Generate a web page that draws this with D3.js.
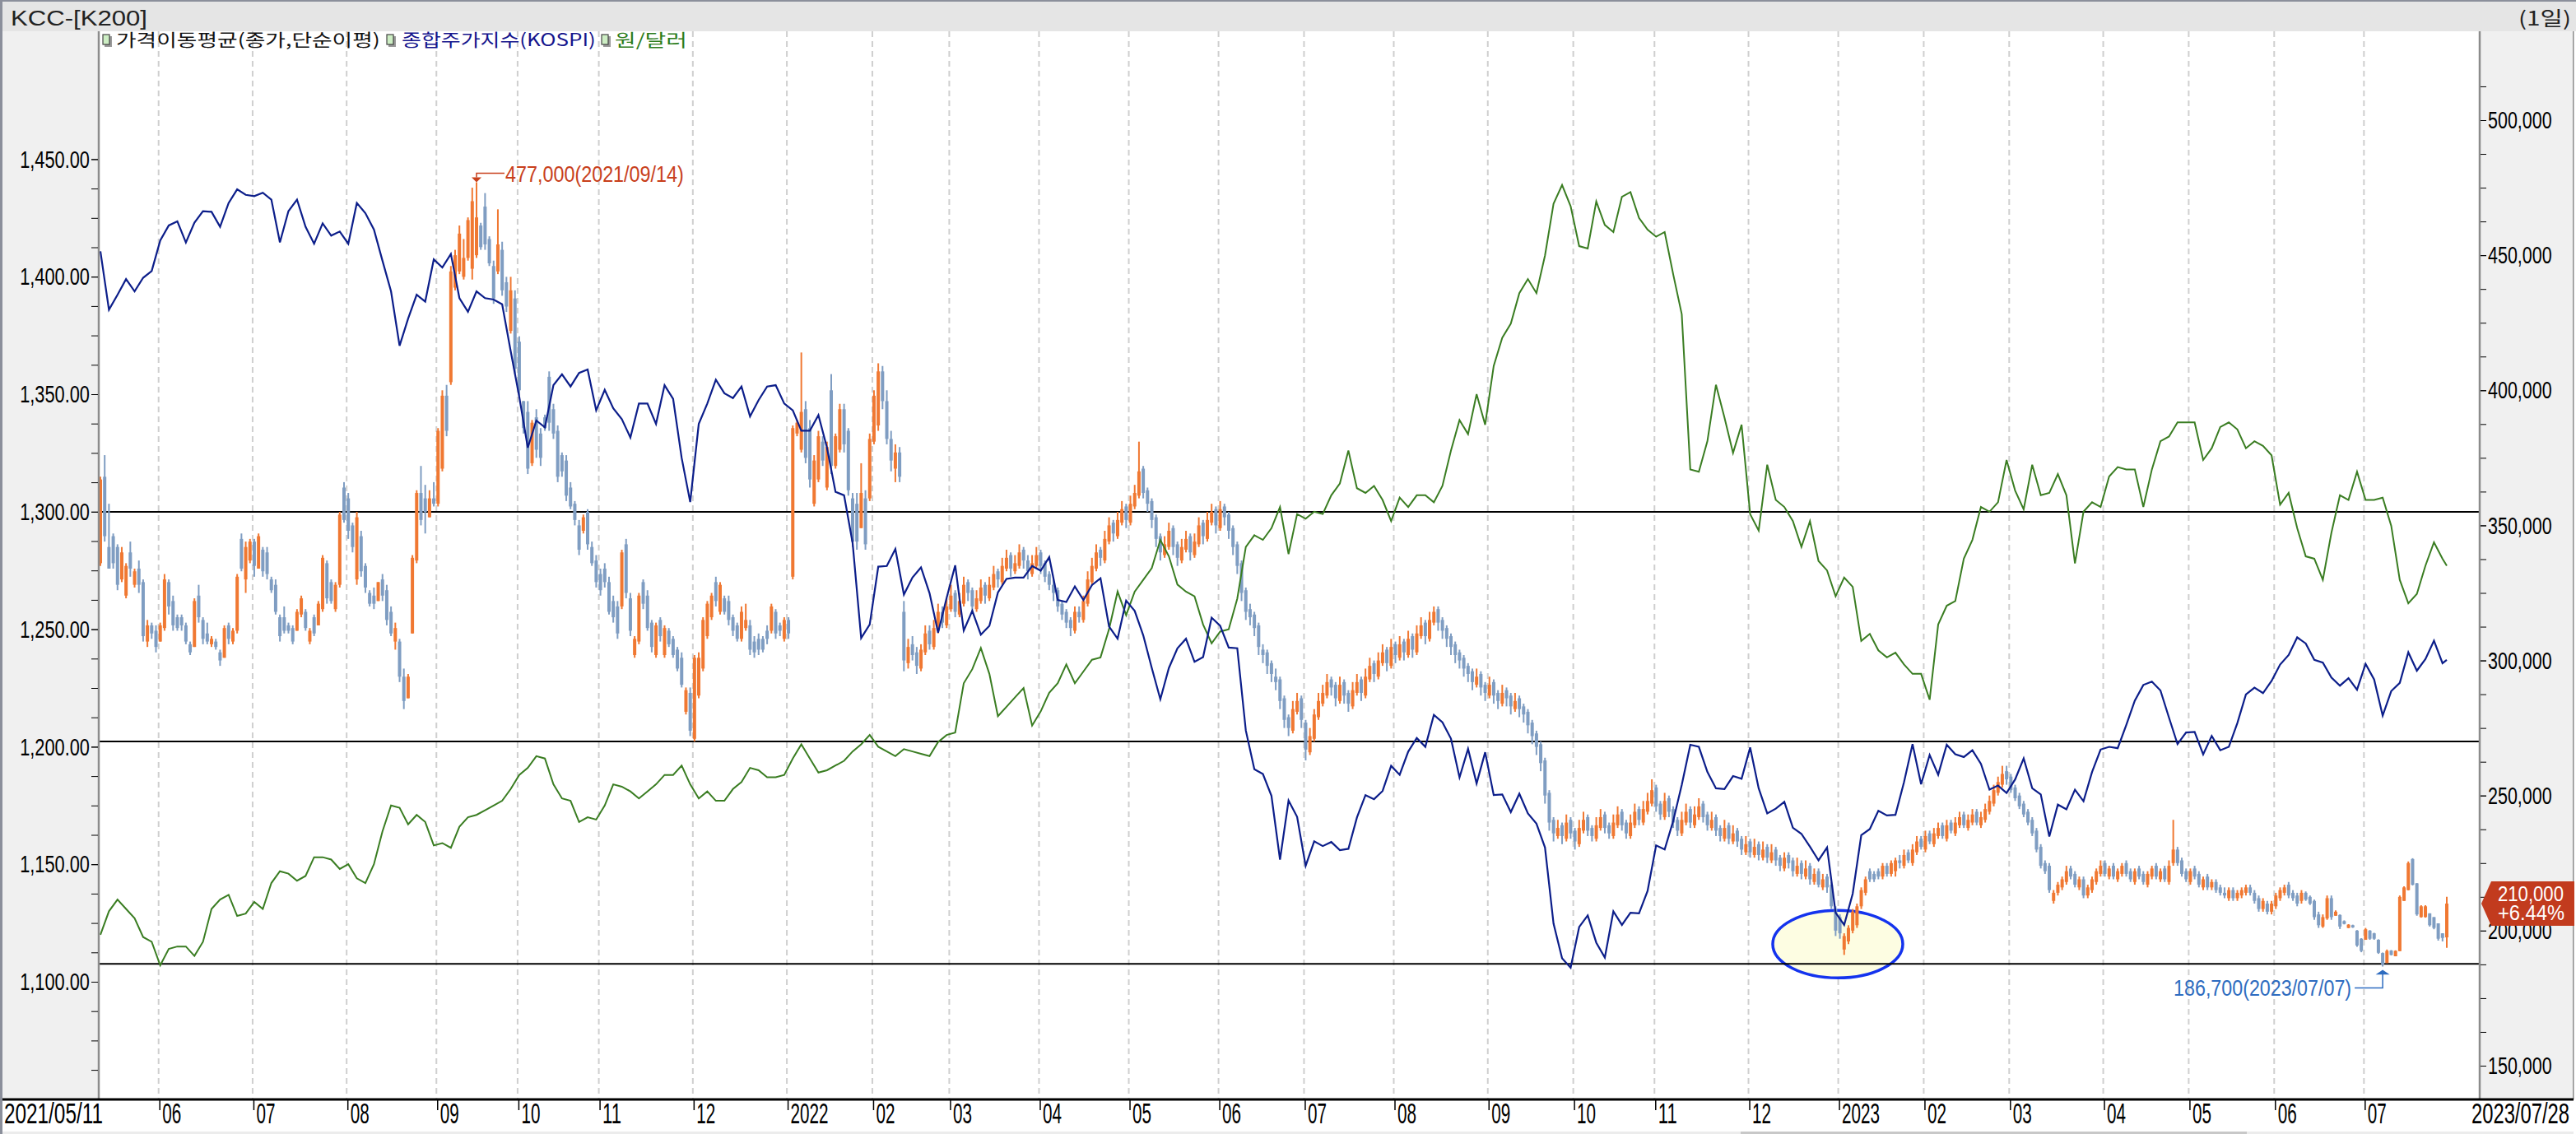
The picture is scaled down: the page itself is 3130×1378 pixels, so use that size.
<!DOCTYPE html>
<html>
<head>
<meta charset="utf-8">
<script src="https://cdn.jsdelivr.net/npm/d3@7"></script>
<style>
html, body { margin: 0; padding: 0; background: #fff; }
svg { display: block; }
</style>
</head>
<body>
<script>
// KCC daily bars with KOSPI and USD/KRW overlays

const title = "KCC-[K200]";
const period = "(1일)";
const firstDay = "2021-05-11";
const lastDay = "2023-07-28";

// KRX closing days inside the range
const holidays = [
	"2021-05-19", "2021-08-16", "2021-09-20", "2021-09-21", "2021-09-22", "2021-10-04", "2021-10-11", "2021-12-31",
	"2022-01-31", "2022-02-01", "2022-02-02", "2022-03-01", "2022-03-09", "2022-05-05", "2022-06-01", "2022-06-06",
	"2022-08-15", "2022-09-09", "2022-09-12", "2022-10-03", "2022-10-10", "2022-12-30",
	"2023-01-23", "2023-01-24", "2023-03-01", "2023-05-01", "2023-05-05", "2023-05-29", "2023-06-06"
];

const legendItems = [
	{ label: "가격이동평균(종가,단순이평)", color: "#111111" },
	{ label: "종합주가지수(KOSPI)", color: "#14148c" },
	{ label: "원/달러", color: "#2d7d1c" }
];

// [open, high, low, close] in thousand won, one per trading day
const kccBars = [
	[336,368,335,367],[368,376,344,346],[342,358,334,334],[346,347,334,336],[342,343,326,328],[330,342,329,340],[324,336,323,335],[340,344,331,334],[328,334,327,333],[334,337,325,328],
	[329,330,307,309],[307,315,305,313],[313,314,308,310],[311,313,303,305],[307,314,307,313],[312,332,311,330],[329,330,317,320],[322,324,311,313],[316,317,311,312],[316,317,311,313],
	[313,314,306,307],[306,307,302,303],[305,323,305,322],[324,328,314,316],[315,316,306,308],[310,314,306,307],[306,309,305,308],[307,308,304,305],[303,304,298,300],[301,313,301,312],
	[313,314,306,308],[307,312,306,311],[311,332,310,331],[345,347,333,334],[330,344,325,342],[337,345,336,344],[344,345,331,335],[334,347,334,346],[341,342,331,333],[340,342,330,332],
	[330,331,325,326],[328,330,317,318],[316,317,307,309],[316,320,310,311],[313,314,310,311],[312,313,306,307],[311,319,311,318],[317,324,316,323],[318,319,311,312],[307,312,306,311],
	[316,317,309,310],[313,322,313,321],[319,339,318,338],[336,337,321,323],[329,330,321,322],[319,329,318,328],[328,355,327,354],[364,366,351,352],[360,362,345,348],[350,351,340,342],
	[330,355,328,353],[346,348,331,333],[335,336,325,327],[325,326,320,321],[324,327,319,321],[322,329,322,329],[330,332,322,324],[326,328,313,315],[318,320,309,310],[307,314,304,312],
	[307,308,292,294],[294,297,282,285],[286,295,286,294],[310,339,310,338],[337,363,336,362],[362,372,350,352],[360,365,347,355],[353,363,353,360],[360,366,357,358],[358,386,357,385],
	[371,400,370,398],[398,402,383,385],[403,446,402,444],[438,452,437,450],[444,461,443,458],[442,456,441,449],[449,464,448,463],[445,475,441,470],[450,477,449,464],[461,462,452,453],
	[468,473,452,454],[456,457,446,447],[446,448,432,434],[444,467,443,454],[452,455,435,437],[440,442,429,431],[422,442,421,437],[434,437,406,408],[418,420,398,400],[396,396,384,386],
	[392,396,369,371],[373,389,372,388],[390,393,375,378],[384,386,372,375],[390,391,385,386],[405,407,385,388],[393,395,382,384],[385,387,366,368],[376,377,368,370],[374,376,359,361],
	[364,366,356,357],[358,359,350,352],[350,352,339,341],[348,354,347,353],[355,356,341,343],[342,344,335,336],[337,339,327,329],[332,334,324,326],[334,336,327,329],[329,331,317,318],
	[322,324,314,316],[320,322,308,310],[320,341,319,340],[343,345,323,325],[323,325,309,311],[302,309,301,308],[307,325,306,324],[329,330,319,321],[324,326,311,312],[314,315,303,305],
	[302,314,301,313],[315,316,307,309],[302,313,301,312],[311,312,305,306],[308,309,301,302],[304,305,296,297],[301,303,290,291],[281,290,280,289],[288,290,272,274],[271,302,270,301],
	[287,303,286,301],[297,316,296,315],[309,322,308,321],[316,325,315,324],[329,331,320,322],[318,329,317,328],[323,324,317,318],[322,324,313,315],[316,317,309,311],[313,314,307,308],
	[308,320,307,318],[312,321,311,315],[313,315,302,304],[307,309,301,303],[308,310,302,304],[308,309,303,304],[311,313,306,308],[311,321,310,320],[318,319,308,310],[313,314,309,311],
	[308,316,307,315],[315,316,308,310],[331,387,330,386],[384,389,383,388],[378,414,377,392],[393,396,373,375],[386,389,364,367],[358,376,357,374],[367,385,366,383],[381,383,372,374],
	[364,381,363,379],[400,406,369,372],[372,384,371,383],[378,395,377,393],[393,395,377,380],[385,386,361,363],[360,362,342,344],[358,362,341,344],[349,373,349,362],[360,363,341,343],
	[360,384,359,382],[381,400,380,398],[387,410,385,407],[407,409,393,396],[396,400,380,382],[382,385,370,374],[371,380,366,377],[377,379,366,368],[318,322,296,300],[299,308,297,305],
	[306,309,300,302],[303,305,295,298],[297,306,296,304],[303,313,302,310],[311,313,304,306],[305,315,304,312],[311,321,310,318],[318,320,312,314],[313,323,312,320],[319,328,318,324],
	[325,326,316,318],[317,325,316,322],[321,331,320,328],[329,330,322,325],[326,327,318,320],[319,326,318,323],[322,330,321,327],[328,329,321,324],[323,331,322,328],[327,335,326,332],
	[333,334,327,330],[329,338,328,335],[334,341,333,338],[339,340,331,334],[333,339,332,336],[335,343,334,340],[341,342,334,337],[337,339,330,333],[332,339,331,336],[335,342,334,339],
	[340,341,332,335],[336,337,329,331],[332,333,326,328],[328,330,322,325],[326,327,318,320],[321,322,315,317],[318,319,312,314],[315,316,309,312],[311,320,310,318],[318,320,314,316],
	[315,324,314,322],[321,333,320,330],[329,338,328,335],[334,343,333,340],[341,342,335,338],[337,348,336,345],[344,353,343,350],[351,352,344,347],[346,355,345,352],[351,359,350,356],
	[357,358,349,352],[351,361,350,358],[357,365,356,362],[361,381,360,370],[371,372,360,362],[363,364,355,358],[359,360,349,352],[353,354,342,345],[346,347,337,340],[339,346,338,343],
	[342,351,341,348],[349,350,339,342],[343,344,335,338],[337,345,336,342],[341,348,340,345],[346,347,337,340],[339,347,338,344],[343,353,342,350],[351,352,343,346],[345,355,344,352],
	[351,358,350,355],[356,357,347,350],[349,359,348,356],[357,358,350,353],[354,355,345,348],[349,350,339,342],[343,344,332,335],[336,337,322,325],[326,327,315,318],[319,321,313,316],
	[317,318,309,312],[313,314,302,305],[304,306,299,302],[303,304,295,298],[299,300,292,295],[294,297,289,292],[293,294,282,285],[286,287,275,278],[279,280,272,275],[274,285,273,282],
	[281,288,280,285],[286,287,275,278],[277,278,263,267],[266,275,265,272],[271,282,270,280],[279,288,278,285],[284,291,283,288],[287,295,286,292],[293,294,287,290],[291,292,283,286],
	[285,294,284,291],[292,293,284,287],[288,289,281,284],[283,292,282,289],[288,295,287,292],[293,294,285,288],[287,297,286,294],[293,301,292,298],[299,300,292,295],[294,303,293,300],
	[299,306,298,303],[304,305,296,299],[298,308,297,305],[306,307,299,302],[301,309,300,306],[307,308,300,303],[302,311,301,308],[309,310,301,304],[303,313,302,310],[309,316,308,313],
	[314,315,306,309],[308,318,307,315],[314,320,313,318],[319,320,311,314],[315,316,308,311],[312,313,305,308],[309,310,302,305],[306,307,299,302],[303,304,297,300],[301,302,294,297],
	[298,299,292,295],[296,297,289,292],[291,297,290,294],[295,296,287,290],[291,292,285,288],[287,294,286,291],[292,293,284,287],[288,289,282,285],[284,291,283,288],[289,290,283,286],
	[287,288,280,283],[282,288,281,285],[286,287,279,282],[283,284,277,280],[281,282,273,276],[277,278,269,272],[273,274,265,268],[269,270,259,262],[263,264,247,250],[251,252,237,240],
	[241,242,233,236],[235,241,234,238],[239,240,232,235],[234,243,233,240],[241,242,234,236],[237,238,230,233],[232,241,231,238],[237,244,236,241],[242,243,235,237],[238,239,233,235],
	[234,242,233,239],[238,245,237,242],[243,244,236,238],[239,240,234,236],[235,243,234,240],[239,246,238,243],[244,245,237,239],[240,241,234,236],[235,243,234,240],[239,247,238,244],
	[245,246,239,241],[240,248,239,245],[244,251,243,248],[247,256,246,252],[253,254,244,246],[247,248,241,243],[242,251,241,248],[249,250,242,244],[245,246,238,240],[241,242,235,237],
	[236,244,235,241],[240,247,239,244],[245,246,238,240],[239,246,238,243],[242,249,241,246],[247,248,240,242],[243,244,237,239],[238,244,237,241],[242,243,235,237],[238,239,233,235],
	[234,241,233,238],[239,240,232,234],[233,239,232,236],[237,238,231,233],[234,235,228,230],[229,235,228,232],[233,234,227,229],[228,234,227,231],[232,233,226,228],[227,233,226,230],
	[231,232,225,227],[226,232,225,229],[230,231,224,226],[227,228,222,224],[223,229,222,227],[228,229,223,225],[226,227,220,222],[221,227,220,224],[225,226,219,221],[220,226,219,223],
	[224,225,217,219],[218,223,217,221],[222,223,216,217],[216,221,215,219],[220,221,214,216],[217,218,208,209],[208,209,198,200],[205,206,197,199],[193,199,191,198],[196,202,195,201],
	[200,208,199,207],[202,210,201,209],[209,216,208,215],[214,220,213,219],[222,223,218,219],[221,222,218,219],[222,223,219,220],[220,225,219,224],[224,225,220,221],[221,226,220,225],
	[222,227,220,226],[226,228,223,225],[224,230,223,228],[229,230,225,226],[225,232,224,230],[229,235,228,233],[234,235,230,231],[230,237,229,235],[236,237,232,233],[232,238,231,236],
	[235,240,234,238],[239,240,234,235],[234,241,233,239],[240,241,236,237],[236,242,235,240],[239,244,238,242],[243,244,238,239],[238,243,237,241],[240,245,239,243],[244,245,239,240],
	[239,244,238,242],[241,247,240,245],[244,250,243,248],[247,254,246,252],[251,257,250,255],[254,261,253,258],[259,261,254,256],[257,258,251,252],[253,254,248,249],[250,251,245,246],
	[247,248,242,243],[244,245,239,240],[241,242,235,236],[237,238,229,230],[231,232,223,224],[225,226,221,222],[224,225,214,215],[211,215,210,214],[214,218,213,217],[216,220,215,219],
	[218,224,217,222],[223,224,219,220],[221,222,216,217],[216,220,215,219],[219,220,212,213],[213,217,212,216],[215,220,214,219],[218,223,217,222],[221,226,220,224],[225,226,220,221],
	[220,224,219,223],[224,225,219,220],[219,223,218,222],[221,225,220,224],[225,226,220,221],[222,223,218,219],[218,223,217,222],[223,224,219,220],[221,222,217,218],[217,222,216,221],
	[220,224,219,223],[224,225,219,220],[219,223,218,222],[223,224,218,219],[218,226,217,224],[225,241,224,230],[230,231,224,225],[226,227,220,221],[222,223,218,219],[218,223,217,222],
	[223,224,219,220],[221,222,216,217],[216,220,215,219],[220,221,215,216],[216,219,215,218],[218,219,214,215],[216,217,213,214],[214,216,212,213],[212,216,211,215],[215,216,211,212],
	[212,215,211,214],[213,216,212,215],[214,217,213,216],[216,217,213,214],[214,215,210,211],[212,213,207,208],[208,212,207,211],[210,211,206,207],[207,211,206,210],[209,214,208,213],
	[212,216,211,215],[214,217,213,216],[217,218,212,213],[214,215,211,212],[213,214,209,210],[211,215,210,214],[214,214.5,211,211.5],[212.5,213,209.5,210],[211,211.5,204,205],[206,207,201,202],
	[201.5,206,201,205],[204.5,213,204,212],[212,213,204,205],[205.5,207.5,205.5,207],[205.8,206,200.6,201.5],[203.5,203.8,202.3,202.5],[201,202.4,200.9,202.2],[202,202.2,201,201.2],[200,200.2,194,194.5],[197,197.2,192,192.5],
	[196.6,201,196.6,200.5],[200,200.2,196.6,197],[199,199.2,196.6,197],[196.6,196.8,191.4,191.8],[191.7,191.9,186.7,187.5],[188,193,188,192.5],[192.6,192.8,190.8,191],[190.5,192.7,190.5,192.5],[192.4,213,192.4,212.5],[211,216.4,211,216],
	[215,225.6,214.9,225],[226.5,226.8,216.7,217],[217.5,217.6,205.5,206],[205,209.4,204.8,209],[205,209.4,204.8,209],[206.4,206.4,201.5,202],[205,205,200.5,201],[202.7,202.7,196.3,197],[199,199,196,197.3],[197.5,212.5,193.6,210]
];

// KOSPI close, every second trading day plus the last day
const kospi = [
	3209,3123,3145,3168,3150,3170,3180,3225,3247,3253,3222,3251,3268,3267,3245,3280,3300,3292,3290,3295,3285,3222,3268,3285,3245,3220,3250,3232,3238,3220,3280,
	3265,3241,3195,3150,3070,3110,3145,3135,3197,3185,3205,3140,3120,3150,3140,3138,3131,3062,2995,2920,2960,2950,3012,3028,3010,3030,3035,2975,3005,2978,2962,
	2935,2985,2985,2955,3012,2992,2905,2840,2955,2985,3020,3000,2993,3010,2966,2990,3010,3012,2985,2975,2945,2945,2968,2920,2855,2850,2780,2640,2660,2745,
	2746,2771,2704,2729,2744,2706,2648,2699,
	2747,2651,2680,2645,2658,2707,2727,2729,2729,2746,
	2739,2759,2696,2693,2716,2696,2718,2728,2657,2639,2695,
	2680,2644,2596,2550,2596,2625,2639,2605,2612,2670,
	2658,2626,2625,2504,2447,2440,2408,2314,2401,2377,
	2305,2341,2334,2340,2328,2330,2376,2409,2403,2415,2452,
	2439,2473,2493,2480,2527,2516,2492,2435,2477,2426,2472,
	2409,2410,2384,2411,2382,2367,2332,2220,2169,2155,
	2215,2232,2192,2170,2238,2218,2236,2235,2268,
	2335,2329,2371,2424,2483,2480,2443,2419,2418,2437,2433,
	2479,2419,2382,2389,2399,2361,2352,2333,2313,2332,2236,
	2218,2264,2350,2359,2386,2379,2380,2428,2484,2425,
	2468,2439,2483,2469,2465,2475,2455,2417,2423,2412,
	2432,2463,2419,2410,2348,2395,2388,2417,2400,2443,2476,
	2480,2478,2512,2548,2571,2576,2563,2523,2484,2501,
	2502,2469,2496,2475,2480,2515,2557,2567,2559,2577,
	2601,2615,2641,2632,2608,2604,2582,2570,2581,2564,
	2602,2579,2526,2562,2574,2619,2592,2609,2636,2603,
	2608
];

// won per dollar, same sampling as KOSPI
const usdKrw = [
	1120,1130,1135,1131,1127,1119,1117,1107,1114,1115,1115,1111,1117,1131,1135,1137,1128,1129,1134,1131,1142,1147,1146,1143,1145,1153,1153,1152,1148,1150,1144,
	1142,1150,1164,1175,1174,1167,1171,1168,1158,1159,1157,1166,1170,1171,1173,1175,1177,1182,1188,1191,1196,1195,1184,1178,1177,1168,1170,1169,1175,1184,1183,
	1181,1178,1181,1184,1188,1188,1192,1184,1178,1181,1177,1177,1182,1185,1191,1190,1187,1187,1188,1195,1201,1195,1189,1190,1192,1194,1198,1201,1205,1200,
	1198,1196,1199,1198,1197,1196,1202,1205,
	1206,1227,1233,1242,1231,1213,1217,1221,1225,1209,
	1215,1223,1227,1235,1227,1232,1237,1238,1250,1266,1256,
	1266,1271,1276,1288,1281,1269,1266,1264,1252,1244,
	1249,1250,1263,1285,1290,1288,1293,1302,1282,1299,
	1297,1300,1299,1307,1312,1326,1310,1308,1311,1305,1296,
	1306,1302,1307,1307,1304,1311,1326,1339,1333,1350,1337,
	1362,1374,1380,1393,1399,1393,1409,1431,1439,1430,
	1413,1412,1432,1422,1419,1434,1436,1425,1420,
	1417,1419,1401,1384,1318,1317,1330,1354,1340,1325,1337,
	1299,1292,1320,1305,1302,1296,1285,1296,1279,1275,1264,
	1272,1268,1245,1248,1241,1238,1240,1235,1231,1231,
	1220,1252,1260,1262,1280,1288,1302,1300,1304,1322,
	1309,1301,1320,1307,1308,1316,1307,1278,1300,1304,1302,
	1315,1319,1318,1318,1302,1318,1330,1332,1338,1338,
	1338,1322,1327,1336,1338,1335,1327,1330,1328,1324,
	1303,1308,1293,1281,1280,1271,1291,1307,1305,1317,
	1305,1305,1306,1294,1271,1261,1265,1277,1287,1280,
	1277
];

const supportLevels = [355, 270, 187.7];
const fxTicks = [1100, 1150, 1200, 1250, 1300, 1350, 1400, 1450];
const priceTicks = [150, 200, 250, 300, 350, 400, 450, 500];

const numFont = "'Liberation Sans', Arial, sans-serif";
const krFont = "'Noto Sans CJK KR', 'Noto Sans', sans-serif";
const upColor = "#f07832";
const downColor = "#7f9dc2";

function tradingDays(from, to, closed) {
	const off = new Set(closed);
	const out = [];
	const end = new Date(to + "T00:00:00Z");
	for (let d = new Date(from + "T00:00:00Z"); d <= end; d.setUTCDate(d.getUTCDate() + 1)) {
		const wd = d.getUTCDay();
		const s = d.toISOString().slice(0, 10);
		if (wd === 0 || wd === 6 || off.has(s)) continue;
		out.push(s);
	}
	return out;
}

// text squeezed to a set width by a horizontal scale
function addText(g, str, x, y, o) {
	const t = g.append("text")
		.attr("font-family", o.font || numFont)
		.attr("font-size", o.size)
		.attr("fill", o.color || "#000")
		.text(str);
	const w = t.node().getComputedTextLength();
	const s = o.width / w;
	const x0 = o.anchor === "end" ? x - o.width : x;
	t.attr("transform", `translate(${x0},${y}) scale(${s},1)`);
	return t;
}

// same squeeze for the texts an axis made; width is per character
function squeezeTicks(g, size, charW, anchor) {
	g.attr("font-family", numFont).attr("font-size", size);
	g.select(".domain").remove();
	g.selectAll("text").each(function () {
		const t = d3.select(this);
		const w = this.getComputedTextLength();
		const target = this.textContent.length * charW;
		const s = target / w;
		const x0 = +t.attr("x") || 0;
		const start = anchor === "end" ? x0 - target : x0;
		t.attr("text-anchor", "start")
			.attr("x", 0)
			.attr("transform", `translate(${start},0) scale(${s},1)`)
			.attr("fill", "#000");
	});
}

function draw() {
	const width = 3130;
	const height = 1378;
	const left = 120, right = 3013, top = 38, bottom = 1336;

	const svg = d3.select("body")
		.append("svg")
		.attr("width", width)
		.attr("height", height);

	const days = tradingDays(firstDay, lastDay, holidays);
	const n = kccBars.length;

	const x = d3.scaleLinear().domain([0, n - 1]).range([122, 2973]);
	const yPrice = d3.scaleLinear().domain([150, 500]).range([1295, 146]);
	const yFx = d3.scaleLinear().domain([1100, 1450]).range([1193, 193.4]);
	const yKospi = d3.scaleLinear().domain([2155, 3305]).range([1176, 226]);

	// frame and panels
	svg.append("rect").attr("width", width).attr("height", height).attr("fill", "#ffffff");
	svg.append("rect").attr("x", 0).attr("y", 0).attr("width", width).attr("height", top).attr("fill", "#e5e5e5");
	svg.append("rect").attr("x", 0).attr("y", 0).attr("width", width).attr("height", 2).attr("fill", "#8b8f9b");
	svg.append("rect").attr("x", 3).attr("y", top).attr("width", left - 3).attr("height", bottom - top).attr("fill", "#f0f0f0");
	svg.append("rect").attr("x", right).attr("y", top).attr("width", 3127 - right).attr("height", bottom - top).attr("fill", "#f0f0f0");
	svg.append("rect").attr("x", 0).attr("y", 0).attr("width", 3).attr("height", height).attr("fill", "#8b8f9b");
	svg.append("rect").attr("x", 3126).attr("y", top).attr("width", 1.5).attr("height", bottom - top).attr("fill", "#8c8c8c");
	svg.append("rect").attr("x", 3).attr("y", 1375).attr("width", 3124).attr("height", 3).attr("fill", "#ececec");
	svg.append("rect").attr("x", 2115).attr("y", 1375).attr("width", 615).attr("height", 3).attr("fill", "#c8c8c8");

	addText(svg, title, 13, 31, { size: 25, width: 166, color: "#222" });
	addText(svg, period, 3060, 31, { size: 24, width: 64, color: "#222", font: krFont });

	// month starts
	const monthStarts = [];
	for (let i = 1; i < days.length && i < n; i++) {
		if (days[i].slice(0, 7) !== days[i - 1].slice(0, 7)) monthStarts.push(i);
	}

	svg.append("g")
		.selectAll("line")
		.data(monthStarts)
		.enter()
		.append("line")
		.attr("x1", d => x(d) - 2)
		.attr("x2", d => x(d) - 2)
		.attr("y1", top)
		.attr("y2", bottom)
		.attr("stroke", "#cfcfcf")
		.attr("stroke-width", 2)
		.attr("stroke-dasharray", "7,5");

	// legend
	const legendX = [[125, 141, 321], [470, 488, 236], [731, 747, 88]];
	legendItems.forEach((item, k) => {
		const [ix, tx, tw] = legendX[k];
		svg.append("rect").attr("x", ix + 2).attr("y", 44).attr("width", 9).attr("height", 13).attr("fill", "#9a9a9a");
		svg.append("rect").attr("x", ix).attr("y", 42).attr("width", 8).attr("height", 12)
			.attr("fill", "#cdeec4").attr("stroke", "#444").attr("stroke-width", 1.2);
		addText(svg, item.label, tx, 56, { size: 21, width: tw, color: item.color, font: krFont });
	});

	const lowIdx = d3.minIndex(kccBars, d => d[2]);
	const highIdx = d3.maxIndex(kccBars, d => d[1]);

	// marked area round the winter low
	svg.append("ellipse")
		.attr("cx", x(406.5))
		.attr("cy", yPrice(195))
		.attr("rx", 79)
		.attr("ry", 41)
		.attr("fill", "#fdfde2")
		.attr("stroke", "#1433ee")
		.attr("stroke-width", 3.5);

	// support lines
	svg.append("g")
		.selectAll("line")
		.data(supportLevels)
		.enter()
		.append("line")
		.attr("x1", left)
		.attr("x2", right)
		.attr("y1", d => yPrice(d))
		.attr("y2", d => yPrice(d))
		.attr("stroke", "#000")
		.attr("stroke-width", 2);

	// candles
	const bars = svg.append("g")
		.selectAll("g")
		.data(kccBars)
		.enter()
		.append("g")
		.attr("fill", d => d[3] >= d[0] ? upColor : downColor)
		.attr("stroke", d => d[3] >= d[0] ? upColor : downColor);

	bars.append("line")
		.attr("x1", (d, i) => x(i))
		.attr("x2", (d, i) => x(i))
		.attr("y1", d => yPrice(d[1]))
		.attr("y2", d => yPrice(d[2]))
		.attr("stroke-width", 2);

	bars.append("rect")
		.attr("x", (d, i) => x(i) - 2)
		.attr("y", d => yPrice(Math.max(d[0], d[3])))
		.attr("width", 4)
		.attr("height", d => Math.max(1.5, Math.abs(yPrice(d[0]) - yPrice(d[3]))))
		.attr("stroke", "none");

	// overlay lines
	const lineDays = d3.range(0, n, 2);
	if (lineDays[lineDays.length - 1] !== n - 1) lineDays.push(n - 1);

	const fxLine = d3.line().x((d, j) => x(lineDays[j])).y(d => yFx(d));
	const kospiLine = d3.line().x((d, j) => x(lineDays[j])).y(d => yKospi(d));

	svg.append("path")
		.attr("d", fxLine(usdKrw))
		.attr("fill", "none")
		.attr("stroke", "#3a7d22")
		.attr("stroke-width", 2);

	svg.append("path")
		.attr("d", kospiLine(kospi))
		.attr("fill", "none")
		.attr("stroke", "#0c1e8a")
		.attr("stroke-width", 2.2);

	// axis lines
	svg.append("line").attr("x1", left).attr("x2", left).attr("y1", top).attr("y2", bottom)
		.attr("stroke", "#8c8c8c").attr("stroke-width", 2.5);
	svg.append("line").attr("x1", right).attr("x2", right).attr("y1", top).attr("y2", bottom)
		.attr("stroke", "#8c8c8c").attr("stroke-width", 2.5);

	// left axis (won per dollar)
	svg.append("g")
		.attr("transform", `translate(${left - 1},0)`)
		.call(d3.axisLeft(yFx).tickValues(d3.range(1062.5, 1451, 12.5)).tickFormat("").tickSize(8))
		.call(g => g.select(".domain").remove());

	svg.append("g")
		.attr("transform", `translate(${left - 1},0)`)
		.call(d3.axisLeft(yFx).tickValues(fxTicks).tickFormat(d3.format(",.2f")).tickSize(8).tickPadding(2))
		.call(g => squeezeTicks(g, 30, 10.6, "end"));

	// right axis (price)
	svg.append("g")
		.attr("transform", `translate(${right + 1},0)`)
		.call(d3.axisRight(yPrice).tickValues(d3.range(162.5, 513, 12.5)).tickFormat("").tickSize(7))
		.call(g => g.select(".domain").remove());

	svg.append("g")
		.attr("transform", `translate(${right + 1},0)`)
		.call(d3.axisRight(yPrice).tickValues(priceTicks).tickFormat(d => d3.format(",")(d * 1000)).tickSize(7).tickPadding(2))
		.call(g => squeezeTicks(g, 30, 11.1, "start"));

	// date axis
	svg.append("rect").attr("x", 3).attr("y", bottom).attr("width", 3124).attr("height", 39).attr("fill", "#ffffff");
	svg.append("line").attr("x1", 3).attr("x2", 3127).attr("y1", bottom).attr("y2", bottom)
		.attr("stroke", "#000").attr("stroke-width", 3);

	const monthLabel = i => days[i].slice(5, 7) === "01" ? days[i].slice(0, 4) : days[i].slice(5, 7);

	svg.append("g")
		.attr("transform", `translate(-1,${bottom + 1})`)
		.call(d3.axisBottom(x).tickValues(monthStarts).tickFormat(monthLabel).tickSize(12))
		.call(g => g.selectAll("line").attr("stroke-width", 1.5))
		.call(g => g.selectAll("text").attr("x", 3).attr("y", 28).attr("dy", null))
		.call(g => squeezeTicks(g, 35, 11.5, "start"));

	addText(svg, days[0].replace(/-/g, "/"), 5, bottom + 29, { size: 35, width: 120 });
	addText(svg, days[days.length - 1].replace(/-/g, "/"), 3003, bottom + 29, { size: 35, width: 119 });

	// high annotation
	const hx = x(highIdx), hy = yPrice(kccBars[highIdx][1]);
	const red = "#c8401c";
	svg.append("path")
		.attr("d", `M${hx - 6},${hy - 6} L${hx + 6},${hy - 6} L${hx},${hy} Z`)
		.attr("fill", red);
	svg.append("path")
		.attr("d", `M${hx},${hy - 6} L${hx},${hy - 11} L${hx + 34},${hy - 11}`)
		.attr("fill", "none").attr("stroke", red).attr("stroke-width", 1.5);
	addText(svg, d3.format(",")(kccBars[highIdx][1] * 1000) + "(" + days[highIdx].replace(/-/g, "/") + ")",
		hx + 35, hy - 1, { size: 28, width: 217, color: red });

	// low annotation
	const lx = x(lowIdx), ly = yPrice(kccBars[lowIdx][2]);
	const blue = "#2e6cc0";
	svg.append("path")
		.attr("d", `M${lx - 6},${ly + 9} L${lx + 6},${ly + 9} L${lx},${ly + 5} Z`)
		.attr("fill", blue).attr("stroke", blue).attr("stroke-width", 1.5);
	svg.append("path")
		.attr("d", `M${lx},${ly + 9} L${lx},${ly + 26} L${lx - 34},${ly + 26}`)
		.attr("fill", "none").attr("stroke", blue).attr("stroke-width", 1.5);
	addText(svg, d3.format(",")(kccBars[lowIdx][2] * 1000) + "(" + days[lowIdx].replace(/-/g, "/") + ")",
		lx - 38, ly + 35, { size: 28, width: 216, color: blue, anchor: "end" });

	// last price tag
	const last = kccBars[n - 1][3];
	const prev = kccBars[n - 2][3];
	const yc = yPrice(last);
	svg.append("path")
		.attr("d", `M${right + 2},${yc} L${right + 14},${yc - 27} L3128,${yc - 27} L3128,${yc + 27} L${right + 14},${yc + 27} Z`)
		.attr("fill", "#c23b1e");
	addText(svg, d3.format(",")(last * 1000), 3035, yc - 3, { size: 26, width: 80, color: "#fff" });
	addText(svg, d3.format("+.2f")((last - prev) / prev * 100) + "%", 3035, yc + 20, { size: 26, width: 81, color: "#fff" });
}

window.onload = draw;
</script>
</body>
</html>
